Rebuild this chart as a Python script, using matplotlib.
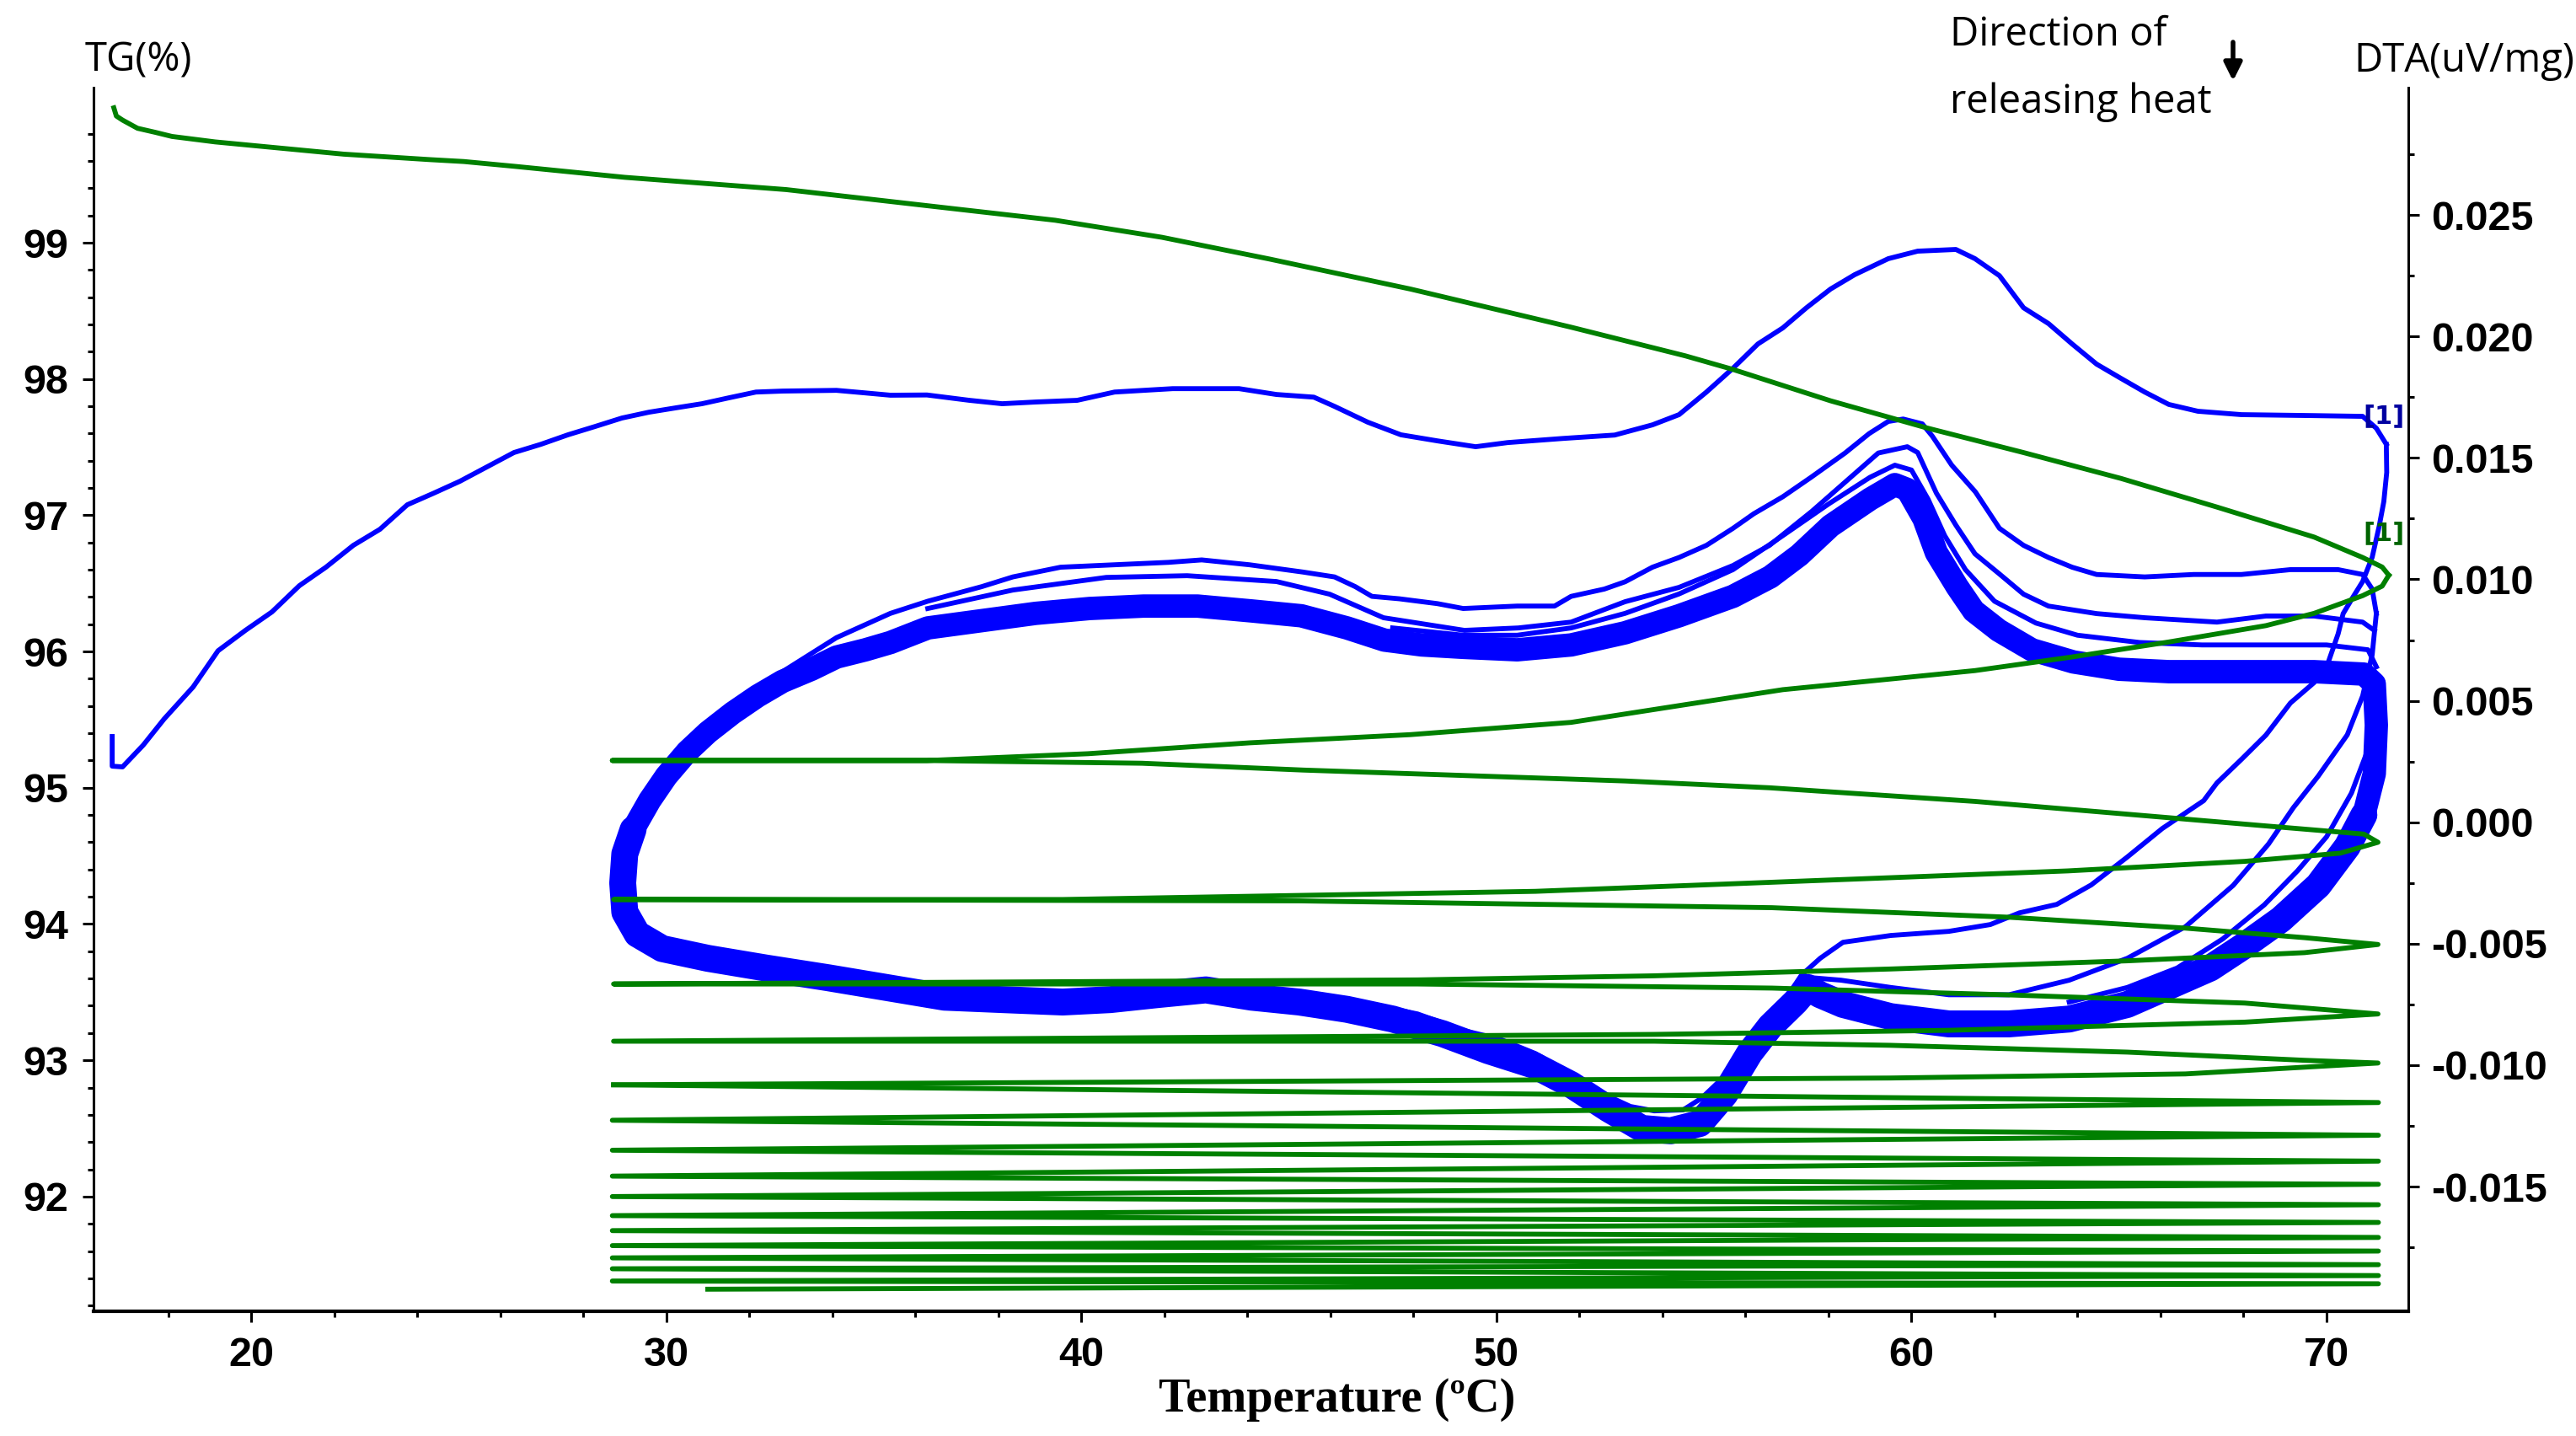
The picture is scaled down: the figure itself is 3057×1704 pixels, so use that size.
import numpy as np
import matplotlib
matplotlib.use('Agg')
import matplotlib.pyplot as plt
from matplotlib.ticker import FixedLocator, FormatStrFormatter

plt.rcParams['axes.unicode_minus'] = False

BLUE = '#0000FF'
GREEN = '#008000'

# ---------------- TG (%) data, left axis ----------------
# first heating run
tg_heat1_T = [16.69, 16.75, 16.9, 17.26, 17.69, 18.09, 19.13, 20.16, 22.23, 24.3, 25.12,
              26.37, 29.0, 32.89, 36.77, 39.37, 41.94, 44.54, 47.93, 51.8, 54.55, 55.7,
              58.05, 60.38, 62.7, 65.05, 67.36, 69.7, 70.87, 71.34, 71.5]
tg_heat1 = [99.99, 99.93, 99.90, 99.84, 99.81, 99.78, 99.74, 99.71, 99.65, 99.61, 99.596,
            99.56, 99.48, 99.39, 99.255, 99.165, 99.04, 98.88, 98.66, 98.38, 98.17, 98.07,
            97.84, 97.64, 97.46, 97.27, 97.06, 96.84, 96.69, 96.62, 96.56]

# upper cycles (cool 1 ... cool 5), read point by point
tg_cyc_T = [71.5, 71.34, 70.87, 69.7, 68.54, 66.2, 63.87, 61.53, 59.22, 56.9, 54.55, 51.8,
            47.93, 44.06, 40.16, 36.28, 28.7,
            36.28, 41.46, 45.34, 49.23, 53.1, 56.58, 58.05, 61.53, 65.05, 68.54, 70.9, 71.24,
            70.33, 68.03, 63.77, 59.49, 55.22, 50.94, 45.25, 39.55, 28.73,
            45.25, 56.64, 62.35, 66.6, 69.47, 71.24,
            69.47, 65.2, 59.49, 53.8, 48.1, 28.73,
            48.1, 56.64, 62.35, 68.03, 71.24,
            68.03, 60.9, 53.8, 28.73,
            53.8, 59.49, 65.2, 69.47, 71.24,
            66.6, 59.49, 28.73]
tg_cyc = [96.56, 96.48, 96.41, 96.28, 96.19, 96.07, 95.96, 95.86, 95.79, 95.72, 95.61, 95.48,
          95.39, 95.33, 95.25, 95.20, 95.20,
          95.20, 95.18, 95.13, 95.09, 95.05, 95.00, 94.97, 94.90, 94.81, 94.72, 94.66, 94.60,
          94.52, 94.46, 94.39, 94.34, 94.29, 94.24, 94.21, 94.18, 94.18,
          94.17, 94.12, 94.05, 93.97, 93.90, 93.85,
          93.79, 93.73, 93.67, 93.62, 93.59, 93.56,
          93.56, 93.53, 93.48, 93.42, 93.34,
          93.28, 93.22, 93.19, 93.14,
          93.14, 93.11, 93.06, 93.00, 92.98,
          92.90, 92.87, 92.82]

# lower cycles: only the turning points (right end, left end, ...)
tg_turn_T = [71.25, 28.7, 71.25, 28.7, 71.25, 28.7, 71.25, 28.7, 71.25, 28.7, 71.25,
             28.7, 71.25, 28.7, 71.25, 28.7, 71.25, 28.7, 71.25, 28.7, 71.25, 31.0]
tg_turn = [92.69, 92.56, 92.45, 92.34, 92.26, 92.15, 92.09, 92.00, 91.94, 91.86, 91.81,
           91.75, 91.70, 91.64, 91.60, 91.55, 91.50, 91.47, 91.42, 91.38, 91.36, 91.32]

# ---------------- DTA (uV/mg) data, right axis ----------------
dta_heat1_T = [16.65, 16.65, 16.9, 17.4, 17.9, 18.6, 19.2, 19.86, 20.5, 21.16, 21.8, 22.46,
               23.1, 23.76, 24.4, 25.03, 25.68, 26.33, 26.98, 27.63, 28.28, 28.93, 29.58,
               30.23, 30.86, 31.5, 32.16, 32.8, 34.1, 34.76, 35.4, 36.28, 37.3, 38.09, 38.9,
               39.9, 40.8, 42.2, 43.8, 44.7, 45.6, 46.1, 46.9, 47.7, 48.58, 49.5, 50.27, 51.6,
               52.85, 53.76, 54.4, 55.06, 55.7, 56.3, 56.9, 57.47, 58.05, 58.63, 59.44, 60.15,
               61.07, 61.53, 62.12, 62.7, 63.3, 63.87, 64.46, 65.05, 65.62, 66.2, 66.9, 67.95,
               69.7, 70.87, 71.2, 71.44]
dta_heat1 = [0.00353, 0.00231, 0.00228, 0.00318, 0.00425, 0.00557, 0.00706, 0.0079, 0.00866,
             0.00974, 0.0105, 0.0114, 0.01206, 0.01307, 0.01355, 0.01404, 0.01463, 0.01522,
             0.01556, 0.01595, 0.01629, 0.01664, 0.01688, 0.01706, 0.01723, 0.01747, 0.01771,
             0.01775, 0.01778, 0.01768, 0.01758, 0.01759, 0.01737, 0.01723, 0.0173, 0.01737,
             0.01771, 0.01785, 0.01785, 0.01761, 0.0175, 0.01712, 0.01647, 0.01595, 0.0157,
             0.01546, 0.01563, 0.0158, 0.01594, 0.01636, 0.01678, 0.01771, 0.01869, 0.01969,
             0.02035, 0.02118, 0.02195, 0.02254, 0.0232, 0.02351, 0.02358, 0.0232, 0.0225,
             0.02118, 0.02053, 0.01969, 0.01886, 0.01827, 0.01771, 0.0172, 0.01692, 0.01678,
             0.01674, 0.01671, 0.01622, 0.01556]

dta_cool1_T = [71.44, 71.45, 71.38, 71.27, 71.1, 70.87, 70.63, 70.4, 70.28, 70.04, 69.7,
               69.13, 68.54, 67.95, 67.36, 67.04, 66.04, 65.2, 64.33, 63.5, 62.6, 61.9, 60.9,
               59.5, 58.35, 57.8, 57.35, 56.9, 56.5, 56.07, 55.5, 54.94, 54.5, 53.8, 53.23,
               52.66, 52.1, 51.53, 50.94, 50.09, 49.23, 48.1, 47.5, 46.4]
dta_cool1 = [0.01556, 0.0144, 0.0132, 0.0122, 0.01091, 0.00991, 0.00925, 0.00859, 0.00776,
             0.00658, 0.00575, 0.00491, 0.00359, 0.00259, 0.00162, 0.00089, -0.00026,
             -0.00143, -0.00258, -0.00338, -0.00373, -0.00421, -0.00449, -0.00466, -0.00494,
             -0.0056, -0.00629, -0.00744, -0.00858, -0.00952, -0.01045, -0.01136, -0.01184,
             -0.01188, -0.0117, -0.01125, -0.01066, -0.01011, -0.00952, -0.00893, -0.00858,
             -0.00789, -0.00768, -0.0075]

dta_heat2_T = [32.8, 34.1, 35.4, 36.3, 37.6, 38.35, 39.5, 40.8, 42.1, 42.9, 44.05, 45.34,
               46.1, 46.6, 47.0, 47.66, 48.58, 49.2, 50.5, 51.4, 51.8, 52.6, 53.1, 53.76,
               54.4, 55.06, 55.7, 56.2, 56.9, 57.58, 58.4, 58.98, 59.44, 59.8, 60.26, 60.5,
               60.97, 61.54, 62.12, 62.7, 63.3, 63.87, 64.46, 65.62, 66.8, 67.95, 69.13,
               70.28, 70.87, 71.1, 71.2]
dta_heat2 = [0.0062, 0.0076, 0.0086, 0.0091, 0.0097, 0.0101, 0.0105, 0.0106, 0.0107, 0.0108,
             0.0106, 0.0103, 0.0101, 0.0097, 0.0093, 0.0092, 0.0090, 0.0088, 0.0089, 0.0089,
             0.0093, 0.0096, 0.0099, 0.0105, 0.0109, 0.0114, 0.0121, 0.0127, 0.0134, 0.0142,
             0.0152, 0.0160, 0.0165, 0.0166, 0.0164, 0.0159, 0.0147, 0.0136, 0.0121, 0.0114,
             0.0109, 0.0105, 0.0102, 0.0101, 0.0102, 0.0102, 0.0104, 0.0104, 0.0102, 0.0096,
             0.0086]

dta_cool2_T = [71.2, 71.1, 70.87, 70.5, 69.8, 69.2, 68.6, 67.75, 66.6, 65.2, 63.8, 62.35,
               60.9, 59.5, 58.3, 57.6]
dta_cool2 = [0.0086, 0.0069, 0.0052, 0.0036, 0.0019, 0.0006, -0.0009, -0.0026, -0.0043,
             -0.0056, -0.0065, -0.0071, -0.0071, -0.0068, -0.0065, -0.0064]

dta_heat3_T = [36.3, 38.35, 40.6, 42.55, 44.7, 45.98, 47.28, 49.23, 50.53, 51.8, 53.1, 54.4,
               55.7, 56.58, 57.6, 58.4, 59.2, 59.9, 60.15, 60.6, 61.07, 61.53, 62.12, 62.7,
               63.3, 64.46, 65.62, 67.36, 68.54, 69.7, 70.87, 71.15]
dta_heat3 = [0.0088, 0.00956, 0.01008, 0.01015, 0.00991, 0.00939, 0.00842, 0.0079, 0.0080,
             0.00824, 0.00908, 0.00967, 0.01057, 0.0114, 0.0128, 0.0140, 0.0152, 0.01546,
             0.01522, 0.01355, 0.01223, 0.01105, 0.01022, 0.00939, 0.0089, 0.00859, 0.00842,
             0.00824, 0.00849, 0.00849, 0.00824, 0.0079]

dta_cool3_T = [71.2, 71.0, 70.6, 70.0, 69.3, 68.5, 67.5, 66.4, 65.2, 63.8]
dta_cool3 = [0.0045, 0.0030, 0.0012, -0.0006, -0.0020, -0.0034, -0.0048, -0.0060, -0.0068,
             -0.0074]

dta_heat4_T = [47.5, 49.2, 50.5, 51.8, 53.1, 54.4, 55.7, 56.9, 58.0, 59.0, 59.6, 60.0, 60.4,
               60.8, 61.3, 62.0, 63.0, 64.0, 65.5, 67.0, 68.5, 70.0, 71.0, 71.2]
dta_heat4 = [0.0080, 0.0077, 0.0077, 0.0080, 0.0086, 0.0094, 0.0104, 0.0118, 0.0131, 0.0142,
             0.0147, 0.0145, 0.0133, 0.0118, 0.0104, 0.0091, 0.0082, 0.0077, 0.0074, 0.0073,
             0.0073, 0.0073, 0.0071, 0.0064]

# dense band of the repeated cycles (centre line, drawn thick)
band_heat_T = [29.2, 29.6, 30.0, 30.5, 31.0, 31.6, 32.2, 32.8, 33.5, 34.1, 34.8, 35.4, 36.3,
               37.6, 38.9, 40.2, 41.5, 42.8, 44.1, 45.3, 46.4, 47.3, 48.2, 49.2, 50.5, 51.8,
               53.1, 54.4, 55.7, 56.6, 57.3, 58.05, 59.0, 59.6, 59.9, 60.3, 60.6, 61.1, 61.5,
               62.1, 62.9, 63.9, 65.0, 66.2, 67.4, 68.5, 69.7, 70.9, 71.15, 71.2, 71.15, 70.9]
band_heat = [-0.0003, 0.0009, 0.0019, 0.0029, 0.0037, 0.0045, 0.0052, 0.0058, 0.0063, 0.0068,
             0.0071, 0.0074, 0.0080, 0.0083, 0.0086, 0.0088, 0.0089, 0.0089, 0.0087, 0.0085,
             0.0080, 0.0075, 0.0073, 0.0072, 0.0071, 0.0073, 0.0078, 0.0085, 0.0093, 0.0101,
             0.0110, 0.0122, 0.0133, 0.0139, 0.0137, 0.0125, 0.0111, 0.0097, 0.0087, 0.0079,
             0.0071, 0.0066, 0.0063, 0.0062, 0.0062, 0.0062, 0.0062, 0.0061, 0.0057, 0.0040,
             0.0020, 0.0003]

band_cool_T = [70.9, 70.5, 69.8, 68.9, 68.0, 67.2, 66.0, 65.2, 63.8, 62.35, 60.9, 59.5, 58.35,
               57.8, 57.5, 57.2, 56.6, 56.1, 55.5, 54.9, 54.2, 53.5, 52.7, 51.8, 50.9, 49.8,
               48.7, 47.5, 46.4, 45.25, 44.1, 43.0, 41.8, 40.7, 39.55, 38.1, 36.7, 35.3, 33.9,
               32.4, 31.0, 29.9, 29.3, 29.0, 28.95, 29.0, 29.2]
band_cool = [0.0003, -0.0010, -0.0026, -0.0040, -0.0051, -0.0060, -0.0069, -0.0075, -0.0081,
             -0.0083, -0.0083, -0.0080, -0.0075, -0.0071, -0.0068, -0.0074, -0.0084, -0.0095,
             -0.0112, -0.0124, -0.0127, -0.0126, -0.0118, -0.0108, -0.0100, -0.0094, -0.0087,
             -0.0081, -0.0077, -0.0074, -0.0072, -0.0069, -0.0071, -0.0073, -0.0074, -0.0073,
             -0.0072, -0.0068, -0.0064, -0.0060, -0.0056, -0.0052, -0.0046, -0.0037, -0.0025,
             -0.0013, -0.0003]

# axis ticks
x_major = [20, 30, 40, 50, 60, 70]
tg_major = [92, 93, 94, 95, 96, 97, 98, 99]
dta_major = [-0.015, -0.010, -0.005, 0.000, 0.005, 0.010, 0.015, 0.020, 0.025]

TICK_FONT = dict(family='Liberation Sans', weight='bold', size=35)
LABEL_FONT = dict(family='Open Sans', size=34)
LW = 4.2


def style_axes(ax, ax2):
    ax.set_xlim(16.2, 71.97)
    ax.set_ylim(91.158, 100.138)
    ax2.set_ylim(-0.02013, 0.03024)

    ax.xaxis.set_major_locator(FixedLocator(x_major))
    ax.xaxis.set_minor_locator(FixedLocator([t for t in np.arange(18, 71, 2) if t % 10]))
    ax.yaxis.set_major_locator(FixedLocator(tg_major))
    tg_minor = [round(v, 1) for v in np.arange(91.2, 99.9, 0.2)]
    ax.yaxis.set_minor_locator(FixedLocator([v for v in tg_minor if abs(v - round(v)) > 0.05]))
    ax2.yaxis.set_major_locator(FixedLocator(dta_major))
    ax2.yaxis.set_minor_locator(FixedLocator([-0.0175, -0.0125, -0.0075, -0.0025, 0.0025,
                                               0.0075, 0.0125, 0.0175, 0.0225, 0.0275]))
    ax2.yaxis.set_major_formatter(FormatStrFormatter('%.3f'))

    for a in (ax, ax2):
        a.tick_params(which='major', direction='out', length=9.5, width=2.2)
        a.tick_params(which='minor', direction='out', length=5, width=2.2)
        a.spines['top'].set_visible(False)
    ax.spines['right'].set_visible(False)
    ax2.spines['left'].set_visible(False)
    ax2.spines['bottom'].set_visible(False)
    ax.spines['left'].set_linewidth(2.2)
    ax.spines['bottom'].set_linewidth(3)
    ax2.spines['right'].set_linewidth(2.2)

    ax.tick_params(axis='x', pad=12)
    ax.tick_params(axis='y', pad=12)
    ax2.tick_params(axis='y', pad=10)
    for lab in ax.get_xticklabels() + ax.get_yticklabels() + ax2.get_yticklabels():
        lab.set_fontproperties(matplotlib.font_manager.FontProperties(**TICK_FONT))


def main():
    fig = plt.figure(figsize=(30.57, 17.04), dpi=100)
    ax = fig.add_axes([0.0363, 0.08685, 0.8986, 0.8521])
    ax2 = ax.twinx()
    # green TG curves are drawn on top of the blue DTA curves
    ax.set_zorder(ax2.get_zorder() + 1)
    ax.patch.set_visible(False)

    # DTA band (repeated cycles) and single runs
    ax2.plot(band_heat_T, band_heat, color=BLUE, lw=20, solid_capstyle='round',
             solid_joinstyle='round')
    ax2.plot(band_cool_T, band_cool, color=BLUE, lw=23, solid_capstyle='round',
             solid_joinstyle='round')
    for xs, ys in [(dta_heat1_T, dta_heat1), (dta_cool1_T, dta_cool1),
                   (dta_heat2_T, dta_heat2), (dta_cool2_T, dta_cool2),
                   (dta_heat3_T, dta_heat3), (dta_cool3_T, dta_cool3),
                   (dta_heat4_T, dta_heat4)]:
        ax2.plot(xs, ys, color=BLUE, lw=LW)

    # TG curves
    ax.plot(tg_heat1_T, tg_heat1, color=GREEN, lw=LW)
    ax.plot(tg_cyc_T, tg_cyc, color=GREEN, lw=LW)
    ax.plot([tg_cyc_T[-1]] + tg_turn_T, [tg_cyc[-1]] + tg_turn, color=GREEN, lw=LW)

    # curve markers
    ax2.text(71.38, 0.01671, '[1]', color='#0000A0', fontsize=22, fontweight='bold',
             ha='center', va='center', family='Liberation Sans Narrow')
    ax.text(71.38, 96.87, '[1]', color='#006400', fontsize=22, fontweight='bold',
            ha='center', va='center', family='Liberation Sans Narrow')

    style_axes(ax, ax2)

    W, H = 3057.0, 1704.0
    fig.text(101 / W, 1 - 72 / H, 'TG(%)', ha='left', va='center', **LABEL_FONT)
    fig.text(3055 / W, 1 - 72 / H, 'DTA(uV/mg)', ha='right', va='center', **LABEL_FONT)
    fig.text(2314 / W, 1 - 41 / H, 'Direction of', ha='left', va='center', **LABEL_FONT)
    fig.text(2314 / W, 1 - 121 / H, 'releasing heat', ha='left', va='center', **LABEL_FONT)
    fig.text(1587 / W, 1 - 1661 / H, 'Temperature (\u00baC)', ha='center', va='center',
             family='Liberation Serif', weight='bold', size=40.5)
    ax.annotate('', xy=(2650 / W, 1 - 96 / H), xytext=(2650 / W, 1 - 50 / H),
                xycoords='figure fraction', textcoords='figure fraction',
                arrowprops=dict(arrowstyle='-|>', lw=4, color='black', mutation_scale=32,
                                shrinkA=0, shrinkB=0))

    fig.savefig('out.png', dpi=100)
    plt.close(fig)


if __name__ == '__main__':
    main()
